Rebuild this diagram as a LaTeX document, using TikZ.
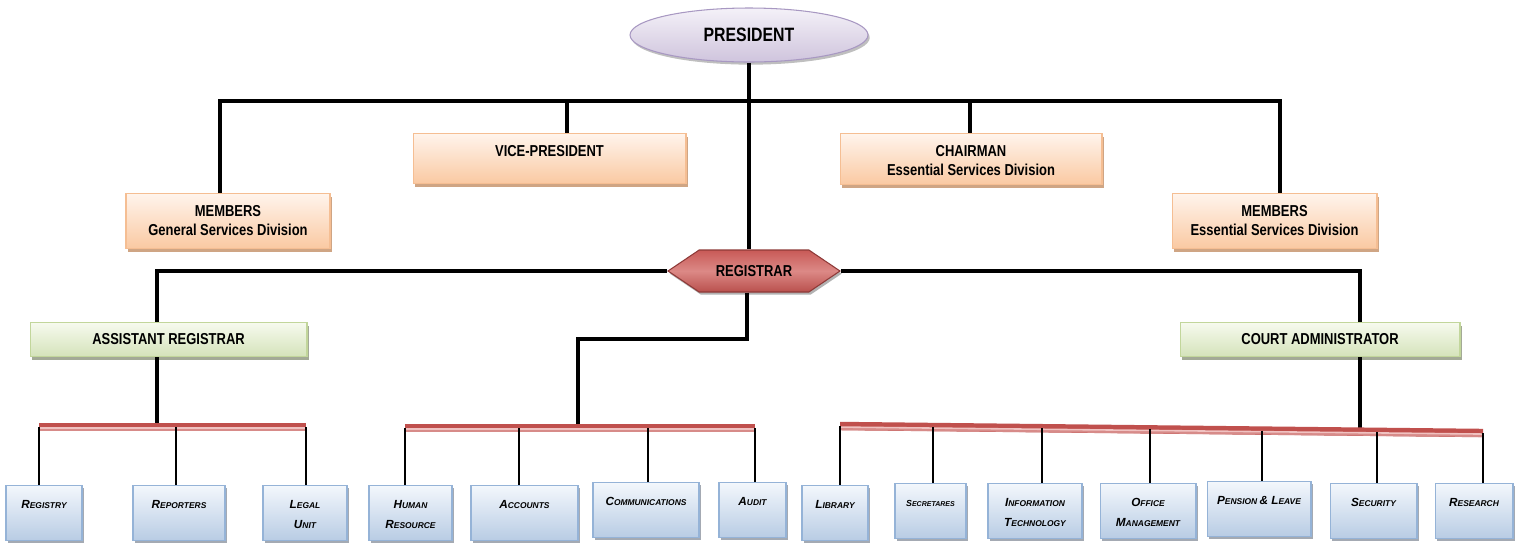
\documentclass[tikz,border=0pt]{standalone}
\usepackage{fontspec}
\setmainfont{Liberation Sans}
\newfontfamily\narrowsf[FakeStretch=0.82]{Liberation Sans}
\usetikzlibrary{positioning,shapes.geometric,shapes.symbols,shadows}

\definecolor{prestop}{HTML}{F4F1F8}
\definecolor{presbot}{HTML}{CFC4DD}
\definecolor{presline}{HTML}{A898C2}
\definecolor{peachtop}{HTML}{FFF4EC}
\definecolor{peachbot}{HTML}{FAC9A2}
\definecolor{peachline}{HTML}{F5BE93}
\definecolor{peachshade}{HTML}{CFA584}
\definecolor{greentop}{HTML}{F6FAEE}
\definecolor{greenbot}{HTML}{D5E3BA}
\definecolor{greenline}{HTML}{C2D69B}
\definecolor{greenshade}{HTML}{A3AA96}
\definecolor{bluetop}{HTML}{F3F7FC}
\definecolor{bluebot}{HTML}{B8CCE4}
\definecolor{blueline}{HTML}{95B3D7}
\definecolor{blueshade}{HTML}{A4AAB3}
\definecolor{regtop}{HTML}{C85A57}
\definecolor{regmid}{HTML}{DC8986}
\definecolor{regbot}{HTML}{B9504D}
\definecolor{regline}{HTML}{8E3A38}
\definecolor{barred}{HTML}{C0504D}
\definecolor{barpink}{HTML}{D78B89}
\definecolor{barlight}{HTML}{F0C2C1}

% first letter big, rest small, keeps the line spacing
\newcommand{\smc}[2]{#1{\fontsize{4.8}{11.4}\selectfont #2}}

\begin{document}
\begin{tikzpicture}[x=0.02cm, y=-0.02cm,
    boss/.style={ellipse, draw=presline, line width=0.6pt, top color=prestop, bottom color=presbot,
      minimum width=4.76cm, minimum height=1.08cm, font=\narrowsf\bfseries\fontsize{11}{13}\selectfont,
      drop shadow={shadow xshift=1pt, shadow yshift=-1.5pt, fill=black!25, opacity=1}},
    peach/.style={rectangle, draw=peachline, line width=0.6pt, top color=peachtop, bottom color=peachbot,
      anchor=north, align=center, inner ysep=4pt, text height=9pt, text depth=#1,
      font=\narrowsf\bfseries\fontsize{9}{10.8}\selectfont,
      drop shadow={shadow xshift=1pt, shadow yshift=-2pt, fill=peachshade, opacity=1}},
    twoline/.style={text height=#1},
    greenbox/.style={rectangle, draw=greenline, line width=0.6pt, top color=greentop, bottom color=greenbot,
      anchor=north, minimum height=0.68cm, font=\narrowsf\bfseries\fontsize{9}{10.8}\selectfont,
      drop shadow={shadow xshift=1pt, shadow yshift=-2pt, fill=greenshade, opacity=1}},
    unit/.style={rectangle, draw=blueline, line width=0.6pt, top color=bluetop, bottom color=bluebot,
      anchor=north, align=center, inner ysep=4pt, text height=9pt, text depth=14.3pt,
      font=\bfseries\itshape\fontsize{6.7}{11.4}\selectfont,
      drop shadow={shadow xshift=1pt, shadow yshift=-1.5pt, fill=blueshade, opacity=1}},
    unit2/.style={unit, text height=20.4pt, text depth=2.9pt},
    trunk/.style={line width=2.3pt, black},
    twig/.style={line width=1.1pt, black},
    redbar/.style={line width=4.8pt, barred},
    redlow/.style={line width=1.6pt, barpink, transform canvas={yshift=-1.5pt}},
    redstripe/.style={line width=0.9pt, barlight, transform canvas={yshift=-0.6pt}}]

\useasboundingbox (0,0) rectangle (1530,542);

% top level
\node[boss] (pres) at (749,35) {PRESIDENT};
\node[peach=3.5pt, twoline=19.8pt, minimum width=4.08cm] (gsd) at (228,193) {MEMBERS\\General Services Division};
\node[peach=11.4pt, minimum width=5.46cm] (vp) at (549.5,133) {VICE-PRESIDENT};
\node[peach=1.2pt, twoline=19.8pt, minimum width=5.24cm] (chair) at (971,133) {CHAIRMAN\\Essential Services Division};
\node[peach=3.5pt, twoline=19.8pt, minimum width=4.1cm] (esd) at (1274.5,193) {MEMBERS\\Essential Services Division};

\node[signal, signal to=west and east, signal pointer angle=68, draw=regline, line width=0.6pt,
      top color=regtop, bottom color=regbot, middle color=regmid, minimum width=3.44cm,
      minimum height=0.84cm, inner sep=1pt, font=\narrowsf\bfseries\fontsize{9}{10.8}\selectfont,
      drop shadow={shadow xshift=1pt, shadow yshift=-1.5pt, fill=black!30, opacity=1}] (reg) at (754,271) {REGISTRAR};

\node[greenbox, minimum width=5.54cm] (ar) at (168.5,322) {ASSISTANT REGISTRAR};
\node[greenbox, minimum width=5.6cm] (ca) at (1320,322) {COURT ADMINISTRATOR};

% units
\node[unit, minimum width=1.52cm] (registry) at (44,485) {\smc{R}{EGISTRY}};
\node[unit, minimum width=1.84cm] (reporters) at (179,485) {\smc{R}{EPORTERS}};
\node[unit2, minimum width=1.68cm] (legal) at (305,485) {\smc{L}{EGAL}\\\smc{U}{NIT}};
\node[unit2, minimum width=1.66cm] (hr) at (410.5,485) {\smc{H}{UMAN}\\\smc{R}{ESOURCE}};
\node[unit, minimum width=2.14cm] (accounts) at (524.5,485) {\smc{A}{CCOUNTS}};
\node[unit, minimum width=2.12cm] (comm) at (646,482) {\smc{C}{OMMUNICATIONS}};
\node[unit, minimum width=1.34cm] (audit) at (752.5,482) {\smc{A}{UDIT}};
\node[unit, minimum width=1.32cm] (library) at (835,485) {\smc{L}{IBRARY}};
\node[unit, minimum width=1.42cm, font=\bfseries\itshape\fontsize{5}{11.4}\selectfont] (secr) at (930.5,483)
  {S{\fontsize{4}{11.4}\selectfont ECRETARES}};
\node[unit2, minimum width=1.88cm] (it) at (1035,483) {\smc{I}{NFORMATION}\\\smc{T}{ECHNOLOGY}};
\node[unit2, minimum width=1.92cm] (office) at (1148,483) {\smc{O}{FFICE}\\\smc{M}{ANAGEMENT}};
\node[unit, minimum width=2.08cm] (pension) at (1259,481) {\smc{P}{ENSION }\&\smc{ L}{EAVE}};
\node[unit, minimum width=1.74cm] (security) at (1373.5,483) {\smc{S}{ECURITY}};
\node[unit, minimum width=1.56cm] (research) at (1474,483) {\smc{R}{ESEARCH}};

% joints
\coordinate (tl) at (220,101);
\coordinate (tv) at (567,101);
\coordinate (tc) at (970,101);
\coordinate (tr) at (1280,101);
\coordinate (ra) at (157,272);
\coordinate (rc) at (1360,272);
\coordinate (rm) at (747,339);
\coordinate (rk) at (578,339);
\coordinate (mj) at (578,432);
\coordinate (cj) at (1360,432);

% bars
\coordinate (l1) at (39,427);   \coordinate (l2) at (176,427);   \coordinate (l3) at (306,427);
\coordinate (m1) at (405,428);  \coordinate (m2) at (519,428);   \coordinate (m3) at (648,428);
\coordinate (m4) at (755,428);
\coordinate (r1) at (840,426);  \coordinate (r2) at (933,427);   \coordinate (r3) at (1042,428.2);
\coordinate (r4) at (1150,429.4); \coordinate (r5) at (1262,430.6); \coordinate (r6) at (1377,431.8);
\coordinate (r7) at (1483,433);

\draw[trunk] (tl |- gsd.north) -- (tl) -- (tr) -- (tr |- esd.north);
\draw[trunk] (tv) -- (tv |- vp.north);
\draw[trunk] (tc) -- (tc |- chair.north);
\draw[trunk] (pres.south) -- (pres.south |- reg.north);
\draw[trunk] (reg.west) -- (reg.west -| ra) -- (ra |- ar.north);
\draw[trunk, line width=1.9pt] (reg.east) -- (reg.east -| rc) -- (rc |- ca.north);
\draw[trunk] (rm |- reg.south) -- (rm) -- (rk) -- (mj);
\draw[trunk] (ra |- ar.south) -- (ra |- l1);
\draw[trunk, line width=1.9pt] (rc |- ca.south) -- (cj);

\draw[redbar] (l1) -- (l3);  \draw[redlow] (l1) -- (l3);  \draw[redstripe] (l1) -- (l3);
\draw[redbar] (m1) -- (m4);  \draw[redlow] (m1) -- (m4);  \draw[redstripe] (m1) -- (m4);
\draw[redbar] (r1) -- (r7);  \draw[redlow] (r1) -- (r7);  \draw[redstripe] (r1) -- (r7);

\draw[twig] (l1) -- (l1 |- registry.north);
\draw[twig] (l2) -- (l2 |- reporters.north);
\draw[twig] (l3) -- (l3 |- legal.north);
\draw[twig] (m1) -- (m1 |- hr.north);
\draw[twig] (m2) -- (m2 |- accounts.north);
\draw[twig] (m3) -- (m3 |- comm.north);
\draw[twig] (m4) -- (m4 |- audit.north);
\draw[twig] (r1) -- (r1 |- library.north);
\draw[twig] (r2) -- (r2 |- secr.north);
\draw[twig] (r3) -- (r3 |- it.north);
\draw[twig] (r4) -- (r4 |- office.north);
\draw[twig] (r5) -- (r5 |- pension.north);
\draw[twig] (r6) -- (r6 |- security.north);
\draw[twig] (r7) -- (r7 |- research.north);
\end{tikzpicture}
\end{document}
